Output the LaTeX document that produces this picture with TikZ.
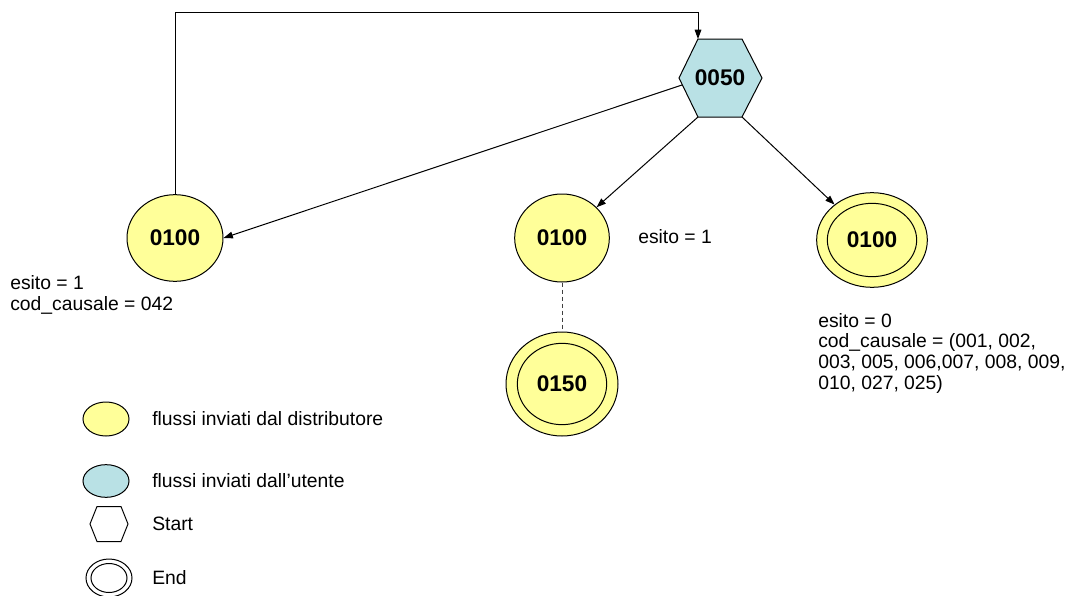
\documentclass[tikz,border=0pt]{standalone}
\usepackage{fontspec}
\setmainfont{Liberation Sans}
\usetikzlibrary{shapes.geometric,arrows.meta}
\definecolor{yel}{HTML}{FFFF99}
\definecolor{cyanf}{HTML}{B9E1E5}
\begin{document}
\begin{tikzpicture}[x=0.75pt,y=-0.75pt,
  every node/.style={inner sep=0pt},
  thin line/.style={line width=0.75pt},
  state/.style={ellipse,draw,fill=yel,thin line,font=\bfseries\fontsize{17}{20}\selectfont},
  statefree/.style={ellipse,draw,thin line,font=\bfseries\fontsize{17}{20}\selectfont},
  conn/.style={thin line,-{Triangle[length=7pt,width=5pt]}},
  lbl/.style={font=\fontsize{14.5}{15.5}\selectfont,align=left},
]
\useasboundingbox (0,0) rectangle (1068,596);
% start hexagon
\coordinate (hL) at (679,78);
\coordinate (hTL) at (698,39);
\coordinate (hTR) at (742,39);
\coordinate (hR) at (762,78);
\coordinate (hBR) at (742,117);
\coordinate (hBL) at (698,117);
\coordinate (hLo) at (682,85);
\coordinate (topc) at (698,12);
\draw[fill=cyanf,thin line] (hL) -- (hTL) -- (hTR) -- (hR) -- (hBR) -- (hBL) -- cycle;
\node[font=\bfseries\fontsize{17}{20}\selectfont] (n50) at (720,78) {0050};
% states
\node[state,minimum width=72pt,minimum height=65pt] (a) at (175,238) {0100};
\node[state,minimum width=71pt,minimum height=66pt] (b) at (562,238) {0100};
\node[state,minimum width=84pt,minimum height=78pt] (c) at (562,384) {};
\node[statefree,minimum width=67pt,minimum height=61pt] (ci) at (562,384) {0150};
\node[state,minimum width=83pt,minimum height=71pt] (d) at (872,240) {};
\node[statefree,minimum width=67pt,minimum height=55pt] (di) at (872,240) {0100};
% connectors
\draw[conn] (hLo) -- (a.east);
\draw[conn] (hBL) -- (b);
\draw[conn] (hBR) -- (d);
\draw[conn] (a.north) |- (topc) -- (hTL);
\draw[thin line,black!75,dash pattern=on 3pt off 2.25pt] (b.south) -- (c.north);
% labels (base anchor = last line's baseline)
\node[lbl,anchor=base west] (la) at (10,310) {esito = 1\\cod\_causale = 042};
\node[lbl,anchor=base west] (lb) at (638,243) {esito = 1};
\node[lbl,anchor=base west] (ld) at (818,389) {esito = 0\\cod\_causale = (001, 002,\\003, 005, 006,007, 008, 009,\\010, 027, 025)};
% legend
\node[ellipse,draw,thin line,fill=yel,minimum width=34.5pt,minimum height=25.5pt] (ly) at (106,419) {};
\node[lbl,anchor=west] (ty) at (152,419) {flussi inviati dal distributore};
\node[ellipse,draw,thin line,fill=cyanf,minimum width=34.5pt,minimum height=24.5pt] (lc) at (106,481) {};
\node[lbl,anchor=west] (tc) at (152,481) {flussi inviati dall’utente};
\draw[thin line] (90,524) -- (97,506.5) -- (121,506.5) -- (128,524) -- (121,541.5) -- (97,541.5) -- cycle;
\node[lbl,anchor=west] (ts) at (152,524) {Start};
\node[ellipse,draw,thin line,minimum width=34.5pt,minimum height=28.5pt] (le) at (109,578) {};
\node[ellipse,draw,thin line,minimum width=27pt,minimum height=21.75pt] (lei) at (109,578) {};
\node[lbl,anchor=west] (te) at (152,578) {End};
\end{tikzpicture}
\end{document}
